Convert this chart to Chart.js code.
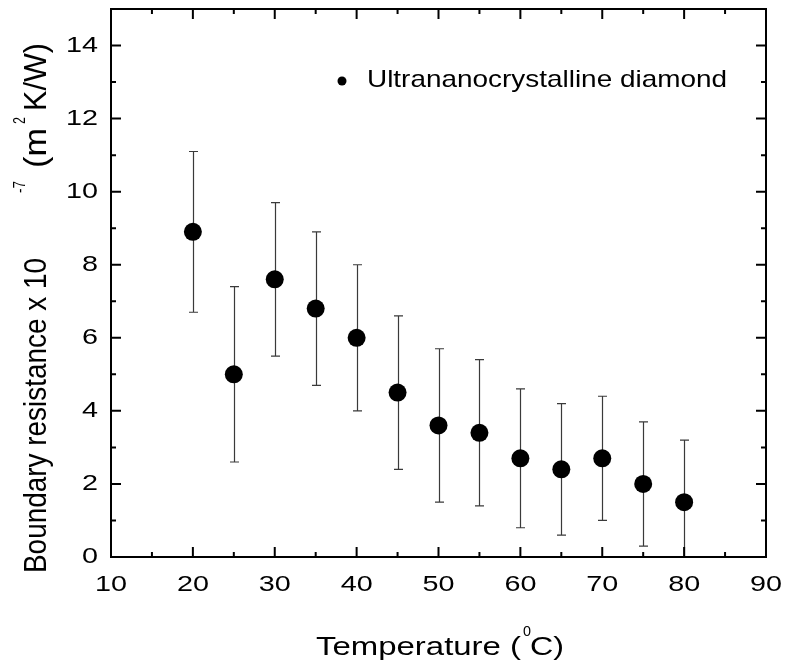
<!DOCTYPE html>
<html>
<head>
<meta charset="utf-8">
<script src="https://cdn.jsdelivr.net/npm/chart.js@4/dist/chart.umd.min.js"></script>
<style>
  html, body { margin: 0; padding: 0; background: #fff; }
  canvas { display: block; }
</style>
</head>
<body>
<canvas id="chart" width="793" height="662"></canvas>
<script>
// data
const temps = [20, 25, 30, 35, 40, 45, 50, 55, 60, 65, 70, 75, 80];
const resistance = [8.9, 5.0, 7.6, 6.8, 6.0, 4.5, 3.6, 3.4, 2.7, 2.4, 2.7, 2.0, 1.5];
const errors = [2.2, 2.4, 2.1, 2.1, 2.0, 2.1, 2.1, 2.0, 1.9, 1.8, 1.7, 1.7, 1.7];
const seriesName = 'Ultrananocrystalline diamond';

const FONT = '"Liberation Sans", Arial, sans-serif';

// text squeezed/stretched to a given width (the original figure is a bit wide)
function fitText(ctx, text, x, y, size, width, align) {
    ctx.save();
    ctx.font = size + 'px ' + FONT;
    const w = ctx.measureText(text).width;
    const sx = width / w;
    ctx.translate(x, y);
    ctx.scale(sx, 1);
    ctx.textAlign = align || 'left';
    ctx.fillText(text, 0, 0);
    ctx.restore();
}

// rotated text for the y title, y0 is where it starts (bottom end)
function vText(ctx, text, bx, y0, size, length, sy) {
    ctx.save();
    ctx.font = size + 'px ' + FONT;
    const w = ctx.measureText(text).width;
    ctx.translate(bx, y0);
    ctx.rotate(-Math.PI / 2);
    ctx.scale(length / w, sy);
    ctx.textAlign = 'left';
    ctx.textBaseline = 'alphabetic';
    ctx.fillText(text, 0, 0);
    ctx.restore();
}

const errorBars = {
    id: 'errorBars',
    beforeDatasetsDraw(chart) {
        const ctx = chart.ctx;
        const xs = chart.scales.x, ys = chart.scales.y;
        const a = chart.chartArea;
        ctx.save();
        ctx.beginPath();
        ctx.rect(a.left, a.top, a.right - a.left, a.bottom - a.top);
        ctx.clip();
        ctx.strokeStyle = '#3a3a3a';
        ctx.lineWidth = 1.2;
        for (let i = 0; i < temps.length; i++) {
            const px = Math.round(xs.getPixelForValue(temps[i])) + 0.5;
            const top = ys.getPixelForValue(resistance[i] + errors[i]);
            const bot = ys.getPixelForValue(resistance[i] - errors[i]);
            ctx.beginPath();
            ctx.moveTo(px, top);
            ctx.lineTo(px, bot);
            ctx.moveTo(px - 4.5, top);
            ctx.lineTo(px + 4.5, top);
            ctx.moveTo(px - 4.5, bot);
            ctx.lineTo(px + 4.5, bot);
            ctx.stroke();
        }
        ctx.restore();
    }
};

const frameAndText = {
    id: 'frameAndText',
    afterDraw(chart) {
        const ctx = chart.ctx;
        const xs = chart.scales.x, ys = chart.scales.y;
        const a = chart.chartArea;
        ctx.save();
        ctx.strokeStyle = '#000';
        ctx.fillStyle = '#000';
        ctx.lineWidth = 2;

        // inward ticks on all four sides
        ctx.beginPath();
        xs.ticks.forEach(t => {
            const px = xs.getPixelForValue(t.value);
            const len = t.value % 10 === 0 ? 10 : 5;
            ctx.moveTo(px, a.bottom); ctx.lineTo(px, a.bottom - len);
            ctx.moveTo(px, a.top); ctx.lineTo(px, a.top + len);
        });
        ys.ticks.forEach(t => {
            const py = ys.getPixelForValue(t.value);
            const len = t.value % 2 === 0 ? 10 : 5;
            ctx.moveTo(a.left, py); ctx.lineTo(a.left + len, py);
            ctx.moveTo(a.right, py); ctx.lineTo(a.right - len, py);
        });
        ctx.stroke();
        ctx.strokeRect(a.left, a.top, a.right - a.left, a.bottom - a.top);

        // tick labels
        ctx.font = '22px ' + FONT;
        const sx = 32 / ctx.measureText('14').width;
        ctx.textBaseline = 'middle';
        ys.ticks.forEach(t => {
            if (t.value % 2 !== 0 || t.value > 14) return;
            const label = String(t.value);
            const w = ctx.measureText(label).width * sx;
            fitText(ctx, label, 98, ys.getPixelForValue(t.value), 22, w, 'right');
        });
        xs.ticks.forEach(t => {
            if (t.value % 10 !== 0) return;
            const label = String(t.value);
            const w = ctx.measureText(label).width * sx;
            fitText(ctx, label, xs.getPixelForValue(t.value), 585, 22, w, 'center');
        });

        // axis titles
        ctx.textBaseline = 'alphabetic';
        fitText(ctx, 'Temperature (', 316, 655, 25, 205, 'left');
        fitText(ctx, '0', 523, 636, 14, 8, 'left');
        fitText(ctx, 'C)', 530, 655, 25, 34, 'left');

        vText(ctx, 'Boundary resistance x 10', 46, 573, 26, 315, 1.2);
        vText(ctx, '-7', 25, 193, 13, 12, 1.2);
        vText(ctx, '(m', 46, 168, 26, 40, 1.2);
        vText(ctx, '2', 25, 124, 13, 7, 1.2);
        vText(ctx, 'K/W)', 46, 111, 26, 68, 1.2);

        // legend
        ctx.beginPath();
        ctx.arc(342, 81, 4.5, 0, Math.PI * 2);
        ctx.fill();
        fitText(ctx, seriesName, 367, 87, 24, 360, 'left');
        ctx.restore();
    }
};

new Chart(document.getElementById('chart').getContext('2d'), {
    type: 'scatter',
    data: {
        datasets: [{
            label: seriesName,
            data: temps.map((t, i) => ({ x: t, y: resistance[i] })),
            pointRadius: 9,
            pointHoverRadius: 9,
            pointBackgroundColor: '#000',
            pointBorderWidth: 0,
            showLine: false
        }]
    },
    options: {
        responsive: false,
        animation: false,
        events: [],
        layout: { padding: { top: 6, right: 27, left: 0, bottom: 0 } },
        plugins: {
            legend: { display: false },
            tooltip: { enabled: false }
        },
        scales: {
            x: {
                type: 'linear',
                min: 10,
                max: 90,
                ticks: { stepSize: 5, display: false },
                grid: { display: false },
                border: { display: false },
                afterFit: s => { s.height = 105; }
            },
            y: {
                min: 0,
                max: 15,
                ticks: { stepSize: 1, display: false },
                grid: { display: false },
                border: { display: false },
                afterFit: s => { s.width = 111; }
            }
        }
    },
    plugins: [errorBars, frameAndText]
});
</script>
</body>
</html>
